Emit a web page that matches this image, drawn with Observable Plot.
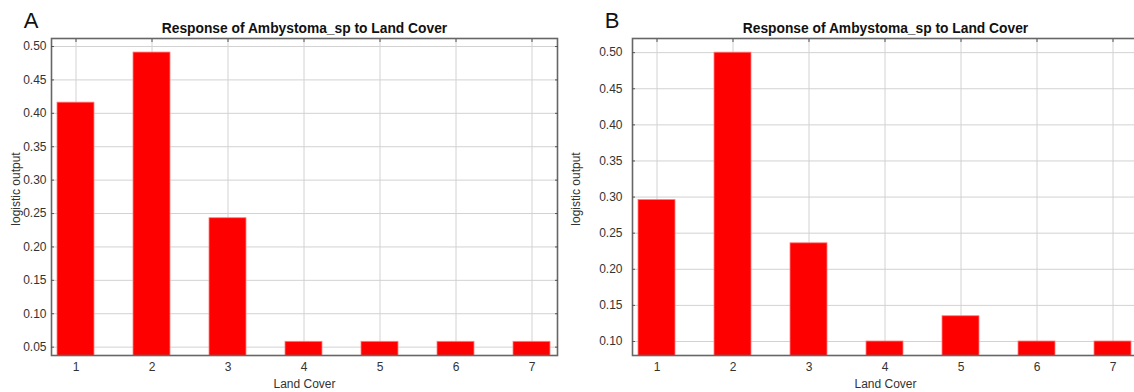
<!DOCTYPE html>
<html>
<head>
<meta charset="utf-8">
<script src="https://cdn.jsdelivr.net/npm/d3@7"></script>
<script src="https://cdn.jsdelivr.net/npm/@observablehq/plot@0.6"></script>
<style>
  html, body { margin: 0; padding: 0; background: #fff; }
  #page { position: relative; width: 1134px; height: 392px; overflow: hidden; background: #fff; }
  .panel { position: absolute; top: 0; }
  .panel svg { max-width: none !important; }
</style>
</head>
<body>
<div id="page"></div>
<script>
// Land cover classes (x categories)
const landCover = ["1", "2", "3", "4", "5", "6", "7"];

// Logistic output per land cover class, model A and model B
const responseA = [0.416, 0.491, 0.243, 0.058, 0.058, 0.058, 0.058];
const responseB = [0.296, 0.500, 0.236, 0.100, 0.135, 0.100, 0.100];

// Y axis ticks and limits for each panel
const yTicksA = [0.05, 0.10, 0.15, 0.20, 0.25, 0.30, 0.35, 0.40, 0.45, 0.50];
const yTicksB = [0.10, 0.15, 0.20, 0.25, 0.30, 0.35, 0.40, 0.45, 0.50];
const yLimitsA = [0.0375, 0.512];
const yLimitsB = [0.0806, 0.5196];

const panelLetters = ["A", "B"];
const chartTitle = "Response of Ambystoma_sp to Land Cover";
const xLabel = "Land Cover";
const yLabel = "logistic output";

const FONT = "'Liberation Sans', Arial, Helvetica, sans-serif";
const PLOT_W = 506;

function responsePanel({letter, values, yTicks, yLimits, left, marginLeft, tickPad, yLabelDx}) {
  const rows = landCover.map((c, i) => ({cover: c, value: values[i]}));
  const fmt = d3.format(".2f");
  const blank = () => "";
  const width = marginLeft + PLOT_W + 9;
  const svg = Plot.plot({
    width,
    height: 392,
    marginLeft,
    marginRight: 9,
    marginTop: 38,
    marginBottom: 37,
    style: {fontFamily: FONT, background: "#fff", maxWidth: "none"},
    x: {domain: landCover, paddingInner: 0.51, paddingOuter: 0.05},
    y: {domain: yLimits},
    marks: [
      Plot.gridX(landCover, {stroke: "#d2d2d2", strokeOpacity: 1, strokeWidth: 1}),
      Plot.gridY(yTicks, {stroke: "#d2d2d2", strokeOpacity: 1, strokeWidth: 1}),
      Plot.barY(rows, {x: "cover", y: "value", fill: "#ff0000", stroke: "#ff8080", strokeWidth: 0.8, clip: true}),
      Plot.frame({stroke: "#666", strokeWidth: 1.6}),
      // small inward ticks along the frame
      Plot.axisY(yTicks, {anchor: "left", tickSize: 3, dx: 3, tickFormat: blank, label: null, stroke: "#555"}),
      Plot.axisY(yTicks, {anchor: "right", tickSize: 3, dx: -3, tickFormat: blank, label: null, stroke: "#555"}),
      Plot.axisX(landCover, {anchor: "top", tickSize: 3, dy: 3, tickFormat: blank, label: null, stroke: "#555"}),
      // tick labels
      Plot.axisY(yTicks, {anchor: "left", tickSize: 0, tickPadding: tickPad, tickFormat: fmt, label: null, fontSize: 12, fill: "#333"}),
      Plot.axisX(landCover, {anchor: "bottom", tickSize: 0, tickPadding: 7, label: null, fontSize: 12, fill: "#333"}),
      // axis titles
      Plot.text([xLabel], {text: d => d, frameAnchor: "bottom", dy: 29, fontSize: 12, fill: "#333", lineAnchor: "middle"}),
      Plot.text([yLabel], {text: d => d, frameAnchor: "left", dx: yLabelDx, dy: -8, rotate: -90, fontSize: 12, fill: "#333", textAnchor: "middle", lineAnchor: "middle"}),
      // chart title and panel letter
      Plot.text([chartTitle], {text: d => d, frameAnchor: "top", dy: -10, fontSize: 13.8, fontWeight: "bold", fill: "#111", lineAnchor: "middle"}),
      Plot.text([letter], {text: d => d, frameAnchor: "top-left", dx: -20.5, dy: -18, fontSize: 22, fill: "#111", textAnchor: "middle", lineAnchor: "middle"})
    ]
  });
  svg.style.maxWidth = "none";
  svg.style.width = width + "px";
  const wrap = document.createElement("div");
  wrap.className = "panel";
  wrap.style.left = left + "px";
  wrap.style.width = width + "px";
  wrap.appendChild(svg);
  document.getElementById("page").appendChild(wrap);
}

responsePanel({letter: panelLetters[0], values: responseA, yTicks: yTicksA, yLimits: yLimitsA,
  left: 0, marginLeft: 51, tickPad: 5, yLabelDx: -35});
responsePanel({letter: panelLetters[1], values: responseB, yTicks: yTicksB, yLimits: yLimitsB,
  left: 566, marginLeft: 66, tickPad: 10, yLabelDx: -56});
</script>
</body>
</html>
